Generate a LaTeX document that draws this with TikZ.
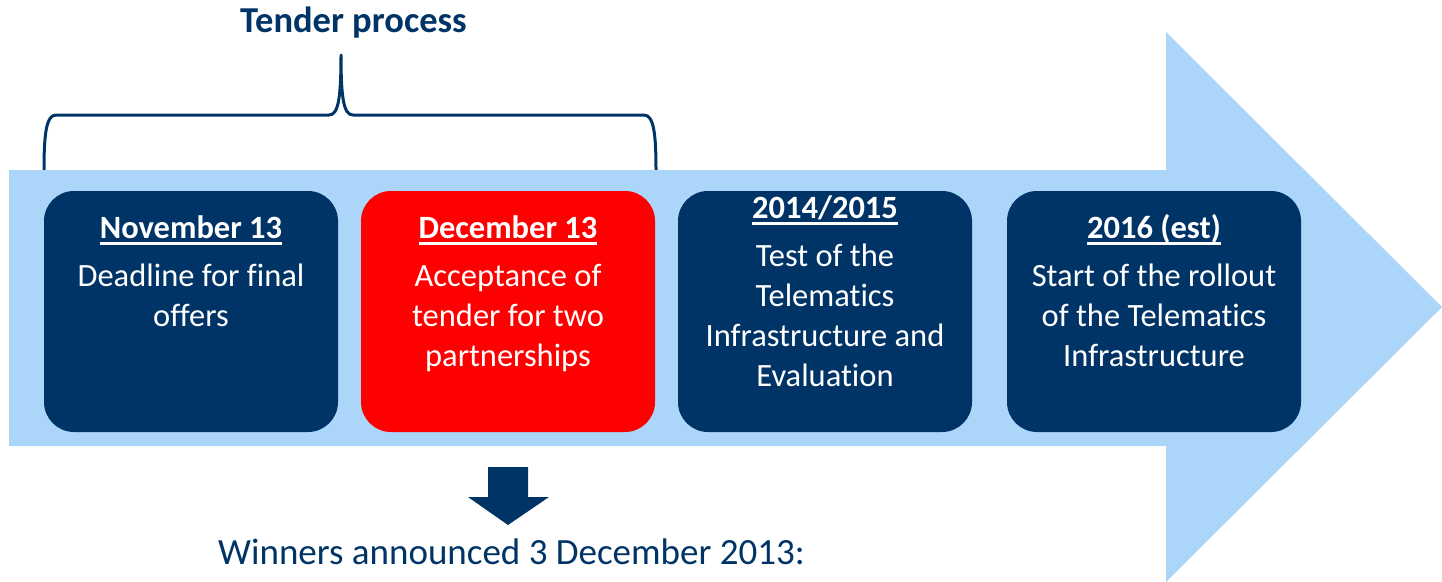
\documentclass[tikz,border=0pt]{standalone}
\usepackage{fontspec}
\setmainfont{Carlito}[Ligatures=NoCommon]
\definecolor{navy}{RGB}{0,52,102}
\definecolor{lightblue}{RGB}{172,213,250}
\definecolor{brightred}{RGB}{255,0,0}
\newcommand\hdrline[1]{\setbox0\hbox{\bfseries #1}\rlap{\rule[-6.5pt]{\wd0}{2.4pt}}\box0}
\tikzset{
  stagebox/.style={draw=none, rounded corners=30pt, minimum width=294pt, minimum height=241pt, inner sep=0pt},
  navybox/.style={stagebox, fill=navy},
  redbox/.style={stagebox, fill=brightred},
  boxtext/.style={text=white, align=center, inner sep=0pt, anchor=base, font=\fontsize{32.5}{40}\selectfont},
  bracestyle/.style={draw=navy, line width=3pt, line cap=round, line join=round},
}
\begin{document}
\begin{tikzpicture}[x=1pt, y=-1pt]
\useasboundingbox (0,0) rectangle (1442,581);
% brace
\draw[bracestyle] (44,171) .. controls (44,135) and (46,115) .. (56,115) -- (329,115)
  .. controls (338,115) and (341,100) .. (341,55)
  .. controls (341,100) and (344,115) .. (353,115) -- (644,115)
  .. controls (654,115) and (656,135) .. (656,171);
% big arrow
\fill[lightblue] (9,170) -- (1166,170) -- (1166,32) -- (1442,307) -- (1166,582) -- (1166,446) -- (9,446) -- cycle;
% title
\node[anchor=base, text=navy, inner sep=0pt, font=\fontsize{36.5}{44}\selectfont\bfseries] (title) at (353.5,32) {Tender process};
% boxes
\node[navybox] (b1) at (191,311.5) {};
\node[redbox]  (b2) at (508,311.5) {};
\node[navybox] (b3) at (825,311.5) {};
\node[navybox] (b4) at (1154,311.5) {};
% texts (anchored at the baseline of the last line)
\node[boxtext] (t1) at (191,326) {\hdrline{November 13}\\[8pt]Deadline for final\\offers};
\node[boxtext] (t2) at (508,366) {\hdrline{December 13}\\[8pt]Acceptance of\\tender for two\\partnerships};
\node[boxtext] (t3) at (825,386) {\hdrline{2014/2015}\\[8pt]Test of the\\Telematics\\Infrastructure and\\Evaluation};
\node[boxtext] (t4) at (1154,366) {\hdrline{2016 (est)}\\[8pt]Start of the rollout\\of the Telematics\\Infrastructure};
% down arrow
\fill[navy] (488,467) -- (528,467) -- (528,497) -- (549,497) -- (508,525) -- (468,497) -- (488,497) -- cycle;
% bottom text
\node[anchor=base west, text=navy, inner sep=0pt, font=\fontsize{37}{44}\selectfont] (winners) at (218,564) {Winners announced 3 December 2013:};
\end{tikzpicture}
\end{document}
